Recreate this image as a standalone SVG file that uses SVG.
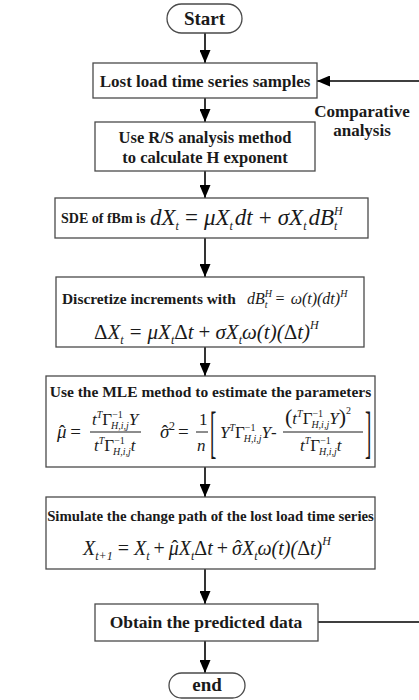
<svg xmlns="http://www.w3.org/2000/svg" width="419" height="700" viewBox="0 0 419 700">
<style>
.box{fill:#fff;stroke:#4a4a4a;stroke-width:1.3}
.b{font-family:"Liberation Serif","Times New Roman",serif;font-weight:bold;fill:#1a1a1a}
.m{font-family:"Liberation Serif","Times New Roman",serif;font-style:italic;fill:#1a1a1a}
.u{font-style:normal}
.s{font-size:12px}
.s2{font-size:10px}
.c{text-anchor:middle}
.con{fill:none;stroke:#000;stroke-width:1.6}
.fl{stroke:#1a1a1a;stroke-width:1}
</style>
<defs>
<marker id="ah" markerUnits="userSpaceOnUse" markerWidth="13" markerHeight="11" refX="13" refY="5.5" orient="auto">
<path d="M0,0 L13,5.5 L0,11 z" fill="#000"/>
</marker>
</defs>

<g id="connectors">
<line class="con" x1="205" y1="33" x2="205" y2="63" marker-end="url(#ah)"/>
<line class="con" x1="205" y1="98" x2="205" y2="122" marker-end="url(#ah)"/>
<line class="con" x1="205" y1="171" x2="205" y2="198" marker-end="url(#ah)"/>
<line class="con" x1="205" y1="238" x2="205" y2="277" marker-end="url(#ah)"/>
<line class="con" x1="205" y1="347" x2="205" y2="376" marker-end="url(#ah)"/>
<line class="con" x1="205" y1="467" x2="205" y2="497" marker-end="url(#ah)"/>
<line class="con" x1="205" y1="569" x2="205" y2="604" marker-end="url(#ah)"/>
<line class="con" x1="205" y1="641" x2="205" y2="673" marker-end="url(#ah)"/>
<polyline class="con" points="318,622 430,622 430,81 317,81" marker-end="url(#ah)"/>
<text class="b c" x="362" y="117" font-size="17">Comparative</text>
<text class="b c" x="362" y="136" font-size="17">analysis</text>
</g>

<g id="start">
<rect class="box" x="167" y="4" width="75" height="29" rx="14.5"/>
<text class="b c" x="204.5" y="25" font-size="19">Start</text>
</g>

<g id="samples">
<rect class="box" x="93" y="63" width="224" height="35"/>
<text class="b c" x="205" y="86.5" font-size="17">Lost load time series samples</text>
</g>

<g id="rs">
<rect class="box" x="95" y="122" width="220" height="49"/>
<text class="b c" x="205" y="143" font-size="16.5">Use R/S analysis method</text>
<text class="b c" x="205" y="163" font-size="16.5">to calculate H exponent</text>
</g>

<g id="sde">
<rect class="box" x="55" y="198" width="313" height="40"/>
<text class="b" x="61" y="223" font-size="14">SDE of fBm is</text>
<text class="m" x="150" y="225" font-size="23">dX<tspan class="s" dy="5">t</tspan><tspan class="u" dy="-5" dx="6">=</tspan><tspan dx="6">μX</tspan><tspan class="s" dy="5">t</tspan><tspan dy="-5" dx="2">dt</tspan><tspan class="u" dx="6">+</tspan><tspan dx="6">σX</tspan><tspan class="s" dy="5">t</tspan><tspan dy="-5" dx="2">dB</tspan><tspan class="s" dy="-10">H</tspan><tspan class="s" dx="-8.7" dy="15">t</tspan></text>
</g>

<g id="discretize">
<rect class="box" x="56" y="277" width="308" height="70"/>
<text class="b" x="62" y="304" font-size="15.4">Discretize increments with</text>
<text class="m" x="247" y="304" font-size="16">dB<tspan class="s2" dy="-7">H</tspan><tspan class="s2" dx="-7.2" dy="11">t</tspan><tspan class="u" dy="-4" dx="8">=</tspan><tspan dx="6">ω(t)(dt)</tspan><tspan class="s2" dy="-7">H</tspan></text>
<text class="m" x="94" y="339" font-size="21"><tspan class="u">Δ</tspan>X<tspan class="s" dy="5">t</tspan><tspan class="u" dy="-5" dx="6">=</tspan><tspan dx="6">μX</tspan><tspan class="s" dy="5">t</tspan><tspan class="u" dy="-5">Δ</tspan>t<tspan class="u" dx="5">+</tspan><tspan dx="5">σX</tspan><tspan class="s" dy="5">t</tspan><tspan dy="-5">ω(t)(</tspan><tspan class="u">Δ</tspan>t)<tspan class="s" dy="-10">H</tspan></text>
</g>

<g id="mle">
<rect class="box" x="46" y="376" width="329" height="91"/>
<text class="b c" x="210.5" y="397" font-size="15.5">Use the MLE method to estimate the parameters</text>
<text class="m" x="57" y="438" font-size="19">μ<tspan class="u" dx="-7.6">ˆ</tspan><tspan class="u" dx="5">=</tspan></text>
<line class="fl" x1="90" y1="432" x2="141" y2="432"/>
<text class="m" x="92" y="425" font-size="17">t<tspan class="s2" dy="-7">T</tspan><tspan class="u" dy="7">Γ</tspan><tspan class="s2 u" dy="-7">−1</tspan><tspan class="s2" dx="-11.7" dy="11">H,i,j</tspan><tspan dy="-4">Y</tspan></text>
<text class="m" x="94" y="451" font-size="17">t<tspan class="s2" dy="-7">T</tspan><tspan class="u" dy="7">Γ</tspan><tspan class="s2 u" dy="-7">−1</tspan><tspan class="s2" dx="-11.7" dy="11">H,i,j</tspan><tspan dy="-4">t</tspan></text>
<text class="m" x="160" y="438" font-size="19">σ<tspan class="u" dx="-7.6">ˆ</tspan><tspan class="s u" dy="-8" dx="1">2</tspan><tspan class="u" dy="8" dx="3">=</tspan></text>
<text class="m u" x="199" y="425" font-size="17">1</text>
<line class="fl" x1="196" y1="432" x2="208" y2="432"/>
<text class="m" x="197" y="451" font-size="17">n</text>
<text class="m u" font-size="19" transform="translate(210,451) scale(1,3)">[</text>
<text class="m" x="220" y="438" font-size="17">Y<tspan class="s2" dy="-7">T</tspan><tspan class="u" dy="7">Γ</tspan><tspan class="s2 u" dy="-7">−1</tspan><tspan class="s2" dx="-11.7" dy="11">H,i,j</tspan><tspan dy="-4">Y</tspan><tspan class="u">-</tspan></text>
<line class="fl" x1="283" y1="432" x2="363" y2="432"/>
<text class="m" x="285" y="424" font-size="17"><tspan class="u" font-size="22">(</tspan>t<tspan class="s2" dy="-7">T</tspan><tspan class="u" dy="7">Γ</tspan><tspan class="s2 u" dy="-7">−1</tspan><tspan class="s2" dx="-11.7" dy="11">H,i,j</tspan><tspan dy="-4">Y</tspan><tspan class="u" font-size="22">)</tspan><tspan class="s2 u" dy="-10">2</tspan></text>
<text class="m" x="300" y="451" font-size="17">t<tspan class="s2" dy="-7">T</tspan><tspan class="u" dy="7">Γ</tspan><tspan class="s2 u" dy="-7">−1</tspan><tspan class="s2" dx="-11.7" dy="11">H,i,j</tspan><tspan dy="-4">t</tspan></text>
<text class="m u" font-size="19" transform="translate(365,451) scale(1,3)">]</text>
</g>

<g id="simulate">
<rect class="box" x="46" y="497" width="329" height="72"/>
<text class="b c" x="210.5" y="521" font-size="14.8">Simulate the change path of the lost load time series</text>
<text class="m" x="83" y="555" font-size="20">X<tspan class="s" dy="5">t+1</tspan><tspan class="u" dy="-5" dx="5">=</tspan><tspan dx="5">X</tspan><tspan class="s" dy="5">t</tspan><tspan class="u" dy="-5" dx="4">+</tspan><tspan dx="4">μ</tspan><tspan class="u" dx="-7.3">ˆ</tspan><tspan dx="0.6">X</tspan><tspan class="s" dy="5">t</tspan><tspan class="u" dy="-5">Δ</tspan>t<tspan class="u" dx="4">+</tspan><tspan dx="4">σ</tspan><tspan class="u" dx="-7.3">ˆ</tspan><tspan dx="0.6">X</tspan><tspan class="s" dy="5">t</tspan><tspan dy="-5">ω(t)(</tspan><tspan class="u">Δ</tspan>t)<tspan class="s" dy="-10">H</tspan></text>
</g>

<g id="predicted">
<rect class="box" x="95" y="604" width="223" height="37"/>
<text class="b c" x="206" y="628" font-size="17.5">Obtain the predicted data</text>
</g>

<g id="end">
<rect class="box" x="169" y="673" width="76" height="25" rx="12.5"/>
<text class="b c" x="207" y="691" font-size="19">end</text>
</g>
</svg>
